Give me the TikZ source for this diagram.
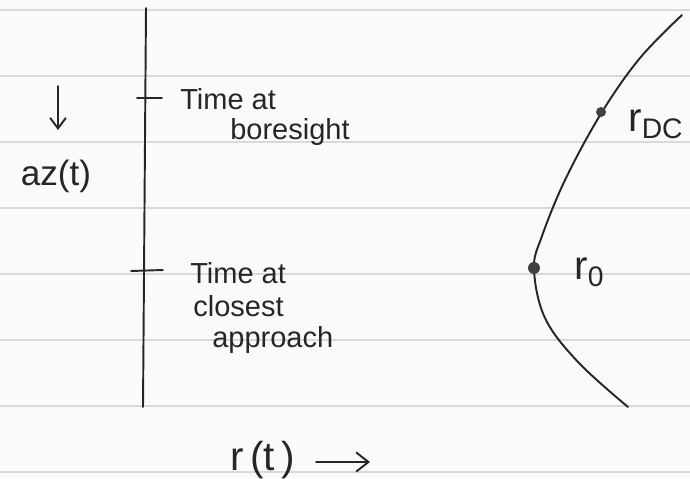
\documentclass[tikz,border=0pt]{standalone}
\usepackage{fontspec}
\setmainfont{Liberation Sans}
\usetikzlibrary{arrows.meta}
\begin{document}
\begin{tikzpicture}[x=0.02cm,y=-0.02cm,
  pen/.style={draw=black!85, line width=1.1pt, line cap=round},
  paperline/.style={draw=black!15, line width=0.8pt},
  lbl/.style={font=\fontsize{16.5}{19}\selectfont, text=black!85, inner sep=0pt, anchor=west},
  biglbl/.style={lbl, font=\fontsize{23}{25}\selectfont},
  dotmark/.style={circle, fill=black!75, inner sep=0pt, minimum size=10pt*0.567}
]
\fill[black!2] (0,0) rectangle (690,478);
\useasboundingbox (0,0) rectangle (690,478);
% ruled paper
\foreach \yy in {10,76,142,208,274,340,406,472}
  \draw[paperline] (0,\yy) -- (690,\yy);
% time axis
\coordinate (axtop) at (146,8);
\coordinate (axbot) at (143,407);
\draw[pen] (axtop) -- (axbot);
\coordinate (t1l) at (137,98); \coordinate (t1r) at (162,98);
\coordinate (t2l) at (131,271); \coordinate (t2r) at (163,270);
\draw[pen] (t1l) -- (t1r);
\draw[pen] (t2l) -- (t2r);
% labels on axis
\node[lbl] (tb1) at (180,99) {Time at};
\node[lbl] (tb2) at (230,132) {boresight};
\node[lbl] (tc1) at (190,273) {Time at};
\node[lbl] (tc2) at (193,306) {closest};
\node[lbl] (tc3) at (212,340) {approach};
% az arrow
\coordinate (azs) at (58,86);
\coordinate (aze) at (58,130);
\draw[pen, -{Straight Barb[length=6pt,width=9pt]}] (azs) -- (aze);
\node[biglbl, font=\fontsize{20}{22}\selectfont, anchor=center] (az) at (56,176) {az(t)};
% curve
\draw[pen] plot[smooth, tension=0.6] coordinates {(682,15) (640,58) (602,112) (566,178) (542,236) (534,269) (545,318) (578,362) (628,407)};
\node[dotmark] (rdc) at (601,112) {};
\node[dotmark, minimum size=12pt*0.567] (r0) at (534,268) {};
\node[biglbl] (rdclbl) at (628,124) {r\textsubscript{DC}};
\node[biglbl] (r0lbl) at (574,272) {r\textsubscript{0}};
% bottom label
\node[biglbl] (rt) at (230,460) {r\,(t\,)};
\coordinate (rts) at (316,462);
\coordinate (rte) at (370,462);
\draw[pen, -{Straight Barb[length=7pt,width=11pt]}] (rts) -- (rte);
\end{tikzpicture}
\end{document}
